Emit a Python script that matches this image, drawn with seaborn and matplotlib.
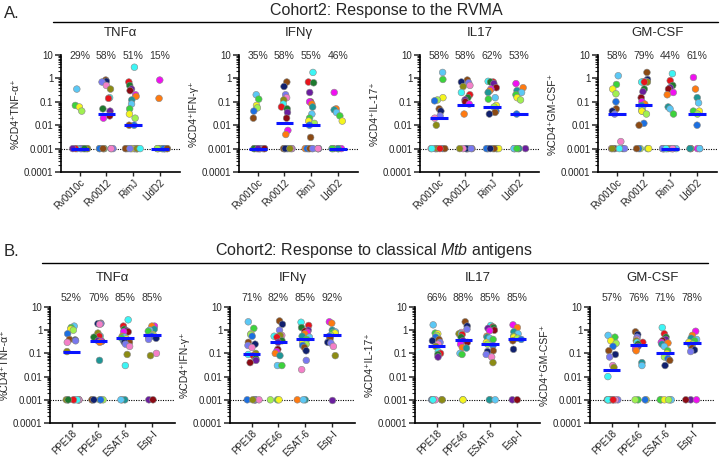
import numpy as np
import pandas as pd
import seaborn as sns
import matplotlib
matplotlib.use("Agg")
import matplotlib.pyplot as plt
from matplotlib.lines import Line2D
from matplotlib.ticker import LogLocator, NullFormatter
from matplotlib.transforms import blended_transform_factory

sns.set_theme(style="ticks")
plt.rcParams["font.family"] = ["Liberation Sans", "DejaVu Sans"]
plt.rcParams["mathtext.fontset"] = "custom"
plt.rcParams["mathtext.rm"] = "Liberation Sans"
plt.rcParams["mathtext.it"] = "Liberation Sans:italic"
plt.rcParams["axes.edgecolor"] = "black"

# ---- data ----
floor = 0.001  # non-responders plotted at detection floor

rvma_antigens = ["Rv0010c", "Rv0012", "RimJ", "LldD2"]
mtb_antigens = ["PPE18", "PPE46", "ESAT-6", "Esp-I"]

# A: RVMA
a_tnf = [[0.35, 0.07, 0.06, 0.04],
         [0.85, 0.75, 0.7, 0.5, 0.35, 0.15, 0.14, 0.05, 0.04, 0.025, 0.02],
         [3.0, 0.7, 0.5, 0.35, 0.3, 0.2, 0.17, 0.12, 0.08, 0.05, 0.03, 0.02, 0.01, 0.01],
         [0.85, 0.14]]
a_tnf_neg = [10, 8, 13, 11]
a_tnf_pct = ["29%", "58%", "51%", "15%"]
a_tnf_med = [0.001, 0.03, 0.01, 0.001]

a_ifn = [[0.2, 0.13, 0.07, 0.055, 0.04, 0.02],
         [0.7, 0.45, 0.2, 0.15, 0.12, 0.08, 0.06, 0.05, 0.035, 0.02, 0.006, 0.004],
         [1.8, 0.7, 0.65, 0.25, 0.1, 0.1, 0.08, 0.06, 0.03, 0.02, 0.015, 0.012, 0.01, 0.003],
         [0.25, 0.05, 0.045, 0.035, 0.025, 0.015]]
a_ifn_neg = [11, 9, 11, 7]
a_ifn_pct = ["35%", "58%", "55%", "46%"]
a_ifn_med = [0.001, 0.012, 0.01, 0.001]

a_il17 = [[1.8, 0.9, 0.15, 0.12, 0.11, 0.05, 0.04, 0.025, 0.02, 0.01],
          [0.85, 0.7, 0.65, 0.5, 0.45, 0.25, 0.2, 0.15, 0.12, 0.1, 0.08, 0.03],
          [0.75, 0.7, 0.7, 0.6, 0.4, 0.35, 0.3, 0.25, 0.15, 0.13, 0.07, 0.06, 0.04, 0.035, 0.03],
          [0.6, 0.4, 0.3, 0.25, 0.2, 0.15, 0.12, 0.03]]
a_il17_neg = [8, 9, 9, 7]
a_il17_pct = ["58%", "58%", "62%", "53%"]
a_il17_med = [0.02, 0.07, 0.06, 0.03]

a_gm = [[1.3, 0.55, 0.35, 0.22, 0.1, 0.05, 0.04, 0.03, 0.002],
        [1.8, 0.9, 0.75, 0.7, 0.7, 0.7, 0.7, 0.35, 0.27, 0.15, 0.1, 0.08, 0.07, 0.05, 0.04, 0.04, 0.03, 0.012, 0.01],
        [1.6, 0.8, 0.5, 0.4, 0.35, 0.25, 0.2, 0.06, 0.05, 0.03],
        [1.1, 0.35, 0.15, 0.09, 0.04, 0.04, 0.03, 0.01]]
a_gm_neg = [7, 5, 13, 6]
a_gm_pct = ["58%", "79%", "44%", "61%"]
a_gm_med = [0.03, 0.07, 0.001, 0.03]

# B: classical Mtb antigens
b_tnf = [[1.5, 1.3, 1.1, 1.0, 0.7, 0.4, 0.38, 0.35, 0.3, 0.12],
         [2.0, 1.9, 1.9, 1.8, 0.75, 0.55, 0.55, 0.5, 0.35, 0.33, 0.33, 0.3, 0.05],
         [2.8, 1.5, 1.1, 0.95, 0.85, 0.85, 0.55, 0.5, 0.5, 0.45, 0.42, 0.35, 0.33, 0.3, 0.3, 0.25, 0.2, 0.09, 0.03],
         [1.5, 1.5, 1.1, 1.0, 0.9, 0.65, 0.6, 0.55, 0.5, 0.45, 0.4, 0.1, 0.08]]
b_tnf_neg = [9, 6, 3, 2]
b_tnf_pct = ["52%", "70%", "85%", "85%"]
b_tnf_med = [0.12, 0.35, 0.45, 0.6]

b_ifn = [[2.3, 1.2, 0.7, 0.65, 0.55, 0.3, 0.25, 0.22, 0.18, 0.1, 0.09, 0.08, 0.06, 0.05, 0.04],
         [2.5, 1.8, 1.0, 0.6, 0.6, 0.55, 0.5, 0.35, 0.3, 0.15, 0.12, 0.1, 0.08, 0.03, 0.03],
         [2.2, 1.6, 1.3, 1.0, 0.9, 0.8, 0.7, 0.55, 0.5, 0.4, 0.3, 0.25, 0.22, 0.18, 0.13, 0.05, 0.02],
         [2.3, 2.0, 1.0, 0.85, 0.8, 0.75, 0.6, 0.55, 0.45, 0.3, 0.28, 0.2, 0.08]]
b_ifn_neg = [6, 3, 3, 1]
b_ifn_pct = ["71%", "82%", "85%", "92%"]
b_ifn_med = [0.09, 0.3, 0.4, 0.6]

b_il17 = [[1.7, 0.75, 0.7, 0.6, 0.5, 0.4, 0.35, 0.3, 0.25, 0.2, 0.12, 0.1, 0.09, 0.07],
          [2.3, 1.5, 1.1, 0.8, 0.7, 0.7, 0.65, 0.5, 0.35, 0.3, 0.25, 0.18, 0.17, 0.1, 0.09],
          [1.6, 1.4, 1.3, 1.2, 1.0, 0.95, 0.55, 0.5, 0.45, 0.4, 0.3, 0.25, 0.22, 0.13, 0.12, 0.09, 0.07, 0.04],
          [1.7, 1.3, 0.85, 0.7, 0.55, 0.5, 0.45, 0.4, 0.35, 0.15]]
b_il17_neg = [7, 2, 3, 2]
b_il17_pct = ["66%", "88%", "85%", "85%"]
b_il17_med = [0.21, 0.37, 0.26, 0.42]

b_gm = [[0.6, 0.5, 0.35, 0.27, 0.2, 0.13, 0.09, 0.07, 0.03, 0.025, 0.01],
        [0.85, 0.65, 0.5, 0.4, 0.35, 0.3, 0.3, 0.25, 0.2, 0.17, 0.15, 0.13, 0.04, 0.03],
        [1.3, 0.7, 0.5, 0.4, 0.35, 0.3, 0.28, 0.25, 0.2, 0.13, 0.1, 0.07, 0.06, 0.05, 0.03],
        [0.9, 0.6, 0.45, 0.4, 0.35, 0.3, 0.25, 0.22, 0.17, 0.14, 0.12]]
b_gm_neg = [8, 4, 6, 3]
b_gm_pct = ["57%", "76%", "71%", "78%"]
b_gm_med = [0.02, 0.23, 0.1, 0.28]

titles = ["TNF\u03b1", "IFN\u03b3", "IL17", "GM-CSF"]
ylabels = ["%CD4\u207aTNF-\u03b1\u207a", "%CD4\u207aIFN-\u03b3\u207a",
           "%CD4\u207aIL-17\u207a", "%CD4\u207aGM-CSF\u207a"]

# donor colours
pal = ["#5BC8F5", "#E8141C", "#1C6FE0", "#F010F0", "#F47FC8", "#3CD23C",
       "#1E7A2E", "#8B4A14", "#FF7A10", "#8C8C14", "#F5F51E", "#6A1E9E",
       "#10206E", "#1E9696", "#3CF5F5", "#A0F050", "#8B0A14", "#7878F0"]
pal_map = {c: c for c in pal}

np.random.seed(11)

fig = plt.figure(figsize=(7.2, 4.58), dpi=100)
W, H = 720.0, 458.0


def draw_panel(rect, antigens, vals, neg, pct, med, title, ylabel, xlim, title_y, pct_y):
    ax = fig.add_axes([rect[0] / W, 1 - rect[3] / H, rect[1] / W, (rect[3] - rect[2]) / H])
    rows = []
    for i, ag in enumerate(antigens):
        for k, v in enumerate(vals[i]):
            rows.append((ag, v, pal[(i * 7 + k * 5) % len(pal)], "pos"))
        for k in range(neg[i]):
            rows.append((ag, floor, pal[(i * 3 + k * 5 + 2) % len(pal)], "neg"))
    df = pd.DataFrame(rows, columns=["antigen", "value", "color", "kind"])
    ax.set_yscale("log")
    ax.axhline(floor, color="black", ls=(0, (1, 1.2)), lw=0.8, zorder=0.5)
    sns.stripplot(data=df[df.kind == "pos"], x="antigen", y="value", order=antigens,
                  hue="color", palette=pal_map, size=4.8, jitter=0.17, edgecolor="#888888",
                  linewidth=0.4, legend=False, ax=ax)
    sns.stripplot(data=df[df.kind == "neg"], x="antigen", y="value", order=antigens,
                  hue="color", palette=pal_map, size=4.8, jitter=0.3, edgecolor="#888888",
                  linewidth=0.4, legend=False, ax=ax)
    x = np.arange(len(antigens))
    ax.hlines(med, x - 0.33, x + 0.33, color="#0A14FF", lw=2.2, zorder=5)
    tr = blended_transform_factory(ax.transData, ax.transAxes)
    for i, p in enumerate(pct):
        ax.text(i, pct_y, p, transform=tr, ha="center", va="center", fontsize=7.5, color="#333333")
    ax.text(0.5, title_y, title, transform=ax.transAxes, ha="center", va="center", fontsize=9.5)
    ax.set_ylim(1e-4, 10)
    ax.set_xlim(*xlim)
    ax.set_yticks([1e-4, 1e-3, 1e-2, 1e-1, 1, 10])
    ax.set_yticklabels(["0.0001", "0.001", "0.01", "0.1", "1", "10"])
    ax.yaxis.set_minor_locator(LogLocator(base=10, subs=np.arange(2, 10)))
    ax.yaxis.set_minor_formatter(NullFormatter())
    ax.tick_params(axis="y", which="major", length=4, width=1.1, labelsize=7, pad=1.5)
    ax.tick_params(axis="y", which="minor", length=2, width=0.8)
    ax.tick_params(axis="x", length=3, width=1, labelsize=7, pad=1)
    plt.setp(ax.get_xticklabels(), rotation=45, ha="right", rotation_mode="anchor")
    ax.set_xlabel("")
    ax.set_ylabel(ylabel, fontsize=7.5, labelpad=2)
    sns.despine(ax=ax)
    for s in ("left", "bottom"):
        ax.spines[s].set_linewidth(1.2)
    return ax


# row A: (left px, width px, top px, bottom px)
a_rects = [(61, 119, 55, 172), (239, 119, 55, 172), (420, 119, 55, 172), (598, 119, 55, 172)]
a_data = [(a_tnf, a_tnf_neg, a_tnf_pct, a_tnf_med), (a_ifn, a_ifn_neg, a_ifn_pct, a_ifn_med),
          (a_il17, a_il17_neg, a_il17_pct, a_il17_med), (a_gm, a_gm_neg, a_gm_pct, a_gm_med)]
for j in range(4):
    draw_panel(a_rects[j], rvma_antigens, *a_data[j], titles[j], ylabels[j],
               (-0.7, 3.75), 1.188, 0.99)

b_rects = [(50, 125, 307, 423), (230, 125, 307, 423), (415, 125, 307, 423), (590, 125, 307, 423)]
b_data = [(b_tnf, b_tnf_neg, b_tnf_pct, b_tnf_med), (b_ifn, b_ifn_neg, b_ifn_pct, b_ifn_med),
          (b_il17, b_il17_neg, b_il17_pct, b_il17_med), (b_gm, b_gm_neg, b_gm_pct, b_gm_med)]
for j in range(4):
    draw_panel(b_rects[j], mtb_antigens, *b_data[j], titles[j], ylabels[j],
               (-0.8, 3.85), 1.25, 1.078)

# headers
fig.text(4 / W, 1 - 14 / H, "A.", fontsize=12, va="center")
fig.text(386 / W, 1 - 10 / H, "Cohort2: Response to the RVMA", fontsize=11.5, ha="center", va="center")
fig.add_artist(Line2D([53 / W, 718 / W], [1 - 22 / H] * 2, transform=fig.transFigure, color="black", lw=1))
fig.text(4 / W, 1 - 252 / H, "B.", fontsize=12, va="center")
fig.text(374 / W, 1 - 251 / H, "Cohort2: Response to classical $\\mathit{Mtb}$ antigens",
         fontsize=11.5, ha="center", va="center")
fig.add_artist(Line2D([42 / W, 708 / W], [1 - 263 / H] * 2, transform=fig.transFigure, color="black", lw=1))

fig.savefig("out.png", dpi=100)
